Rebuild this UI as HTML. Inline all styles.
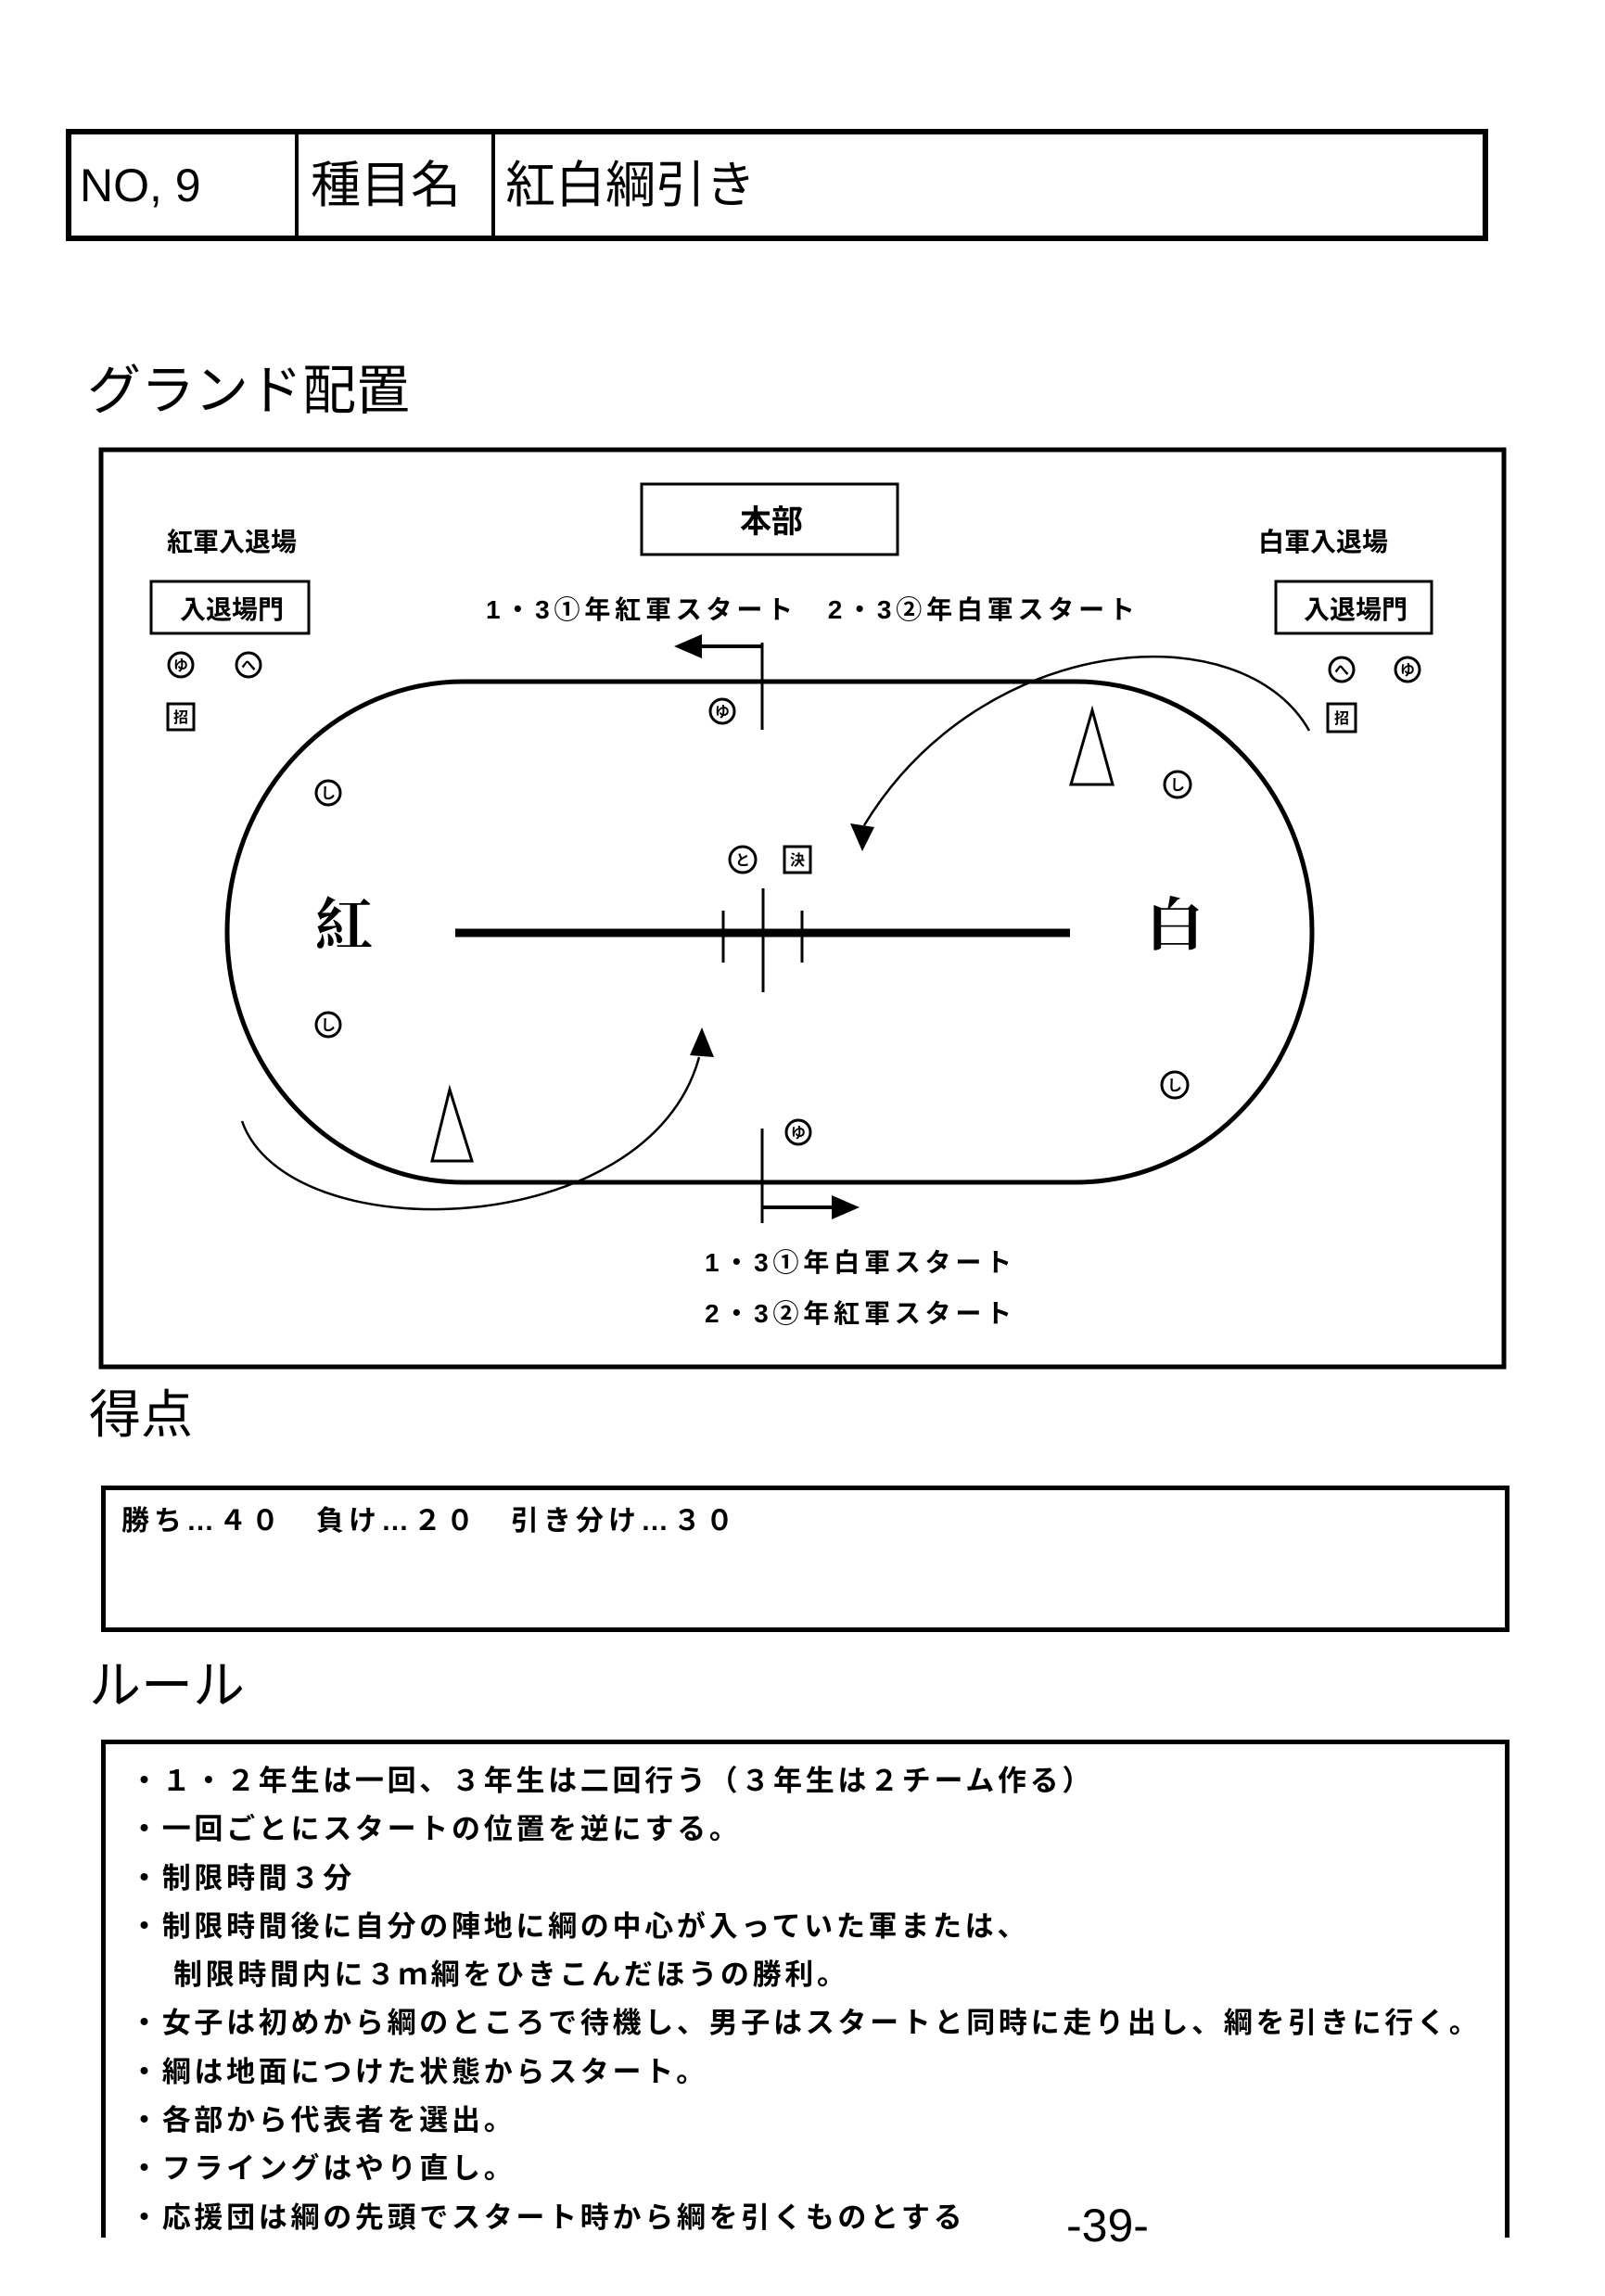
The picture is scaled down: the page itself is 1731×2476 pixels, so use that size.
<!DOCTYPE html>
<html><head><meta charset="utf-8"><style>
body{margin:0;background:#fff;}
#p{position:relative;width:1731px;height:2476px;overflow:hidden;background:#fff;font-family:"Liberation Sans","Noto Sans CJK JP",sans-serif;color:#000;}
.a{position:absolute;white-space:nowrap;}
.b{font-weight:bold;}
</style></head><body><div id="p">
<div class="a" style="left:71px;top:139px;width:1522px;height:109px;border:6px solid #000;"></div>
<div class="a" style="left:318px;top:139px;width:4px;height:121px;background:#000;"></div>
<div class="a" style="left:530px;top:139px;width:4px;height:121px;background:#000;"></div>
<div class="a" style="left:86px;top:170px;font-size:50px;line-height:60px;font-family:'Liberation Sans Narrow','Liberation Sans',sans-serif;">NO, 9</div>
<div class="a" style="left:335px;top:168px;font-size:54px;line-height:64px;">種目名</div>
<div class="a" style="left:545px;top:168px;font-size:54px;line-height:64px;">紅白綱引き</div>
<div class="a" style="left:94px;top:390px;font-size:58px;line-height:64px;">グランド配置</div>

<svg class="a" style="left:0;top:0" width="1731" height="2476" viewBox="0 0 1731 2476">
<rect x="109" y="485" width="1513" height="989" fill="none" stroke="#000" stroke-width="5"/>
<rect x="692" y="522" width="276" height="76" fill="none" stroke="#000" stroke-width="3"/>
<rect x="163" y="627" width="170" height="56" fill="none" stroke="#000" stroke-width="3"/>
<rect x="1376" y="627" width="168" height="56" fill="none" stroke="#000" stroke-width="3"/>
<path d="M500,735 L1160,735 A255,270 0 0 1 1160,1275 L500,1275 A255,270 0 0 1 500,735 Z" fill="none" stroke="#000" stroke-width="5"/>
<line x1="491" y1="1006" x2="1154" y2="1006" stroke="#000" stroke-width="9"/>
<line x1="823" y1="958" x2="823" y2="1070" stroke="#000" stroke-width="3"/>
<line x1="780" y1="982" x2="780" y2="1038" stroke="#000" stroke-width="3"/>
<line x1="865" y1="982" x2="865" y2="1038" stroke="#000" stroke-width="3"/>
<line x1="822" y1="693" x2="822" y2="787" stroke="#000" stroke-width="3"/>
<line x1="822" y1="697" x2="752" y2="697" stroke="#000" stroke-width="4"/>
<polygon points="727,697 757,684 757,710"/>
<line x1="822" y1="1217" x2="822" y2="1319" stroke="#000" stroke-width="3"/>
<line x1="822" y1="1302" x2="900" y2="1302" stroke="#000" stroke-width="4"/>
<polygon points="927,1302 897,1289 897,1315"/>
<polygon points="1178,766 1155,846 1200,846" fill="#fff" stroke="#000" stroke-width="3"/>
<polygon points="485,1175 466,1252 509,1252" fill="#fff" stroke="#000" stroke-width="3"/>
<path d="M1412,788 C1340,660 1060,680 932,890" fill="none" stroke="#000" stroke-width="2.5"/>
<polygon points="930,918 917,888 943,892"/>
<path d="M261,1209 C310,1350 700,1340 754,1140" fill="none" stroke="#000" stroke-width="2.5"/>
<polygon points="757,1108 744,1138 770,1140"/>
<g fill="none" stroke="#000" stroke-width="3">
<circle cx="195" cy="717" r="13"/><circle cx="268" cy="717" r="13"/>
<circle cx="1447" cy="722" r="13"/><circle cx="1518" cy="722" r="13"/>
<circle cx="779" cy="767" r="13"/><circle cx="861" cy="1221" r="13"/>
<circle cx="354" cy="855" r="13"/><circle cx="354" cy="1105" r="13"/>
<circle cx="1270" cy="846" r="14"/><circle cx="1267" cy="1170" r="14"/>
<circle cx="801" cy="927" r="14"/>
<rect x="181" y="759" width="28" height="28"/><rect x="1432" y="759" width="30" height="30"/>
<rect x="846" y="913" width="28" height="28"/>
</g>
<g font-family="Liberation Sans,Noto Sans CJK JP,sans-serif" font-size="16" font-weight="bold" text-anchor="middle">
<text x="195" y="723">ゆ</text><text x="268" y="723">へ</text>
<text x="1447" y="728">へ</text><text x="1518" y="728">ゆ</text>
<text x="779" y="773">ゆ</text><text x="861" y="1227">ゆ</text>
<text x="354" y="861">し</text><text x="354" y="1111">し</text>
<text x="1270" y="852">し</text><text x="1267" y="1176">し</text>
<text x="801" y="933">と</text>
<text x="195" y="779">招</text><text x="1447" y="780">招</text><text x="860" y="933">決</text>
</g>
</svg>

<div class="a b" style="left:692px;top:538px;width:280px;text-align:center;font-size:34px;line-height:50px;">本部</div>
<div class="a b" style="left:180px;top:568px;font-size:28px;line-height:34px;">紅軍入退場</div>
<div class="a b" style="left:1357px;top:568px;font-size:28px;line-height:34px;">白軍入退場</div>
<div class="a b" style="left:163px;top:638px;width:174px;text-align:center;font-size:28px;line-height:40px;">入退場門</div>
<div class="a b" style="left:1376px;top:638px;width:172px;text-align:center;font-size:28px;line-height:40px;">入退場門</div>
<div class="a b" style="left:524px;top:640px;font-size:28px;line-height:36px;letter-spacing:4.8px;">1・3①年紅軍スタート　2・3②年白軍スタート</div>
<div class="a b" style="left:760px;top:1344px;font-size:28px;line-height:36px;letter-spacing:4.8px;">1・3①年白軍スタート</div>
<div class="a b" style="left:760px;top:1399px;font-size:28px;line-height:36px;letter-spacing:4.8px;">2・3②年紅軍スタート</div>
<div class="a b" style="left:340px;top:958px;font-size:62px;line-height:70px;font-family:'Noto Serif CJK SC',serif;">紅</div>
<div class="a b" style="left:1236px;top:958px;font-size:62px;line-height:70px;font-family:'Noto Serif CJK SC',serif;">白</div>

<div class="a" style="left:96px;top:1494px;font-size:56px;line-height:64px;">得点</div>
<div class="a" style="left:109px;top:1602px;width:1509px;height:148px;border:5px solid #000;"></div>
<div class="a b" style="left:131px;top:1622px;font-size:30px;line-height:38px;letter-spacing:5px;">勝ち…４０　負け…２０　引き分け…３０</div>
<div class="a" style="left:96px;top:1786px;font-size:56px;line-height:64px;">ルール</div>
<div class="a" style="left:109px;top:1876px;width:1509px;height:532px;border:5px solid #000;border-bottom:none;"></div>
<div class="a b" style="left:140px;top:1895px;font-size:31px;line-height:52.3px;letter-spacing:3.7px;">
・１・２年生は一回、３年生は二回行う（３年生は２チーム作る）<br>
・一回ごとにスタートの位置を逆にする。<br>
・制限時間３分<br>
・制限時間後に自分の陣地に綱の中心が入っていた軍または、<br>
　 制限時間内に３ｍ綱をひきこんだほうの勝利。<br>
・女子は初めから綱のところで待機し、男子はスタートと同時に走り出し、綱を引きに行く。<br>
・綱は地面につけた状態からスタート。<br>
・各部から代表者を選出。<br>
・フライングはやり直し。<br>
・応援団は綱の先頭でスタート時から綱を引くものとする
</div>
<div class="a" style="left:1150px;top:2370px;font-size:50px;line-height:60px;">-39-</div>
</div></body></html>
